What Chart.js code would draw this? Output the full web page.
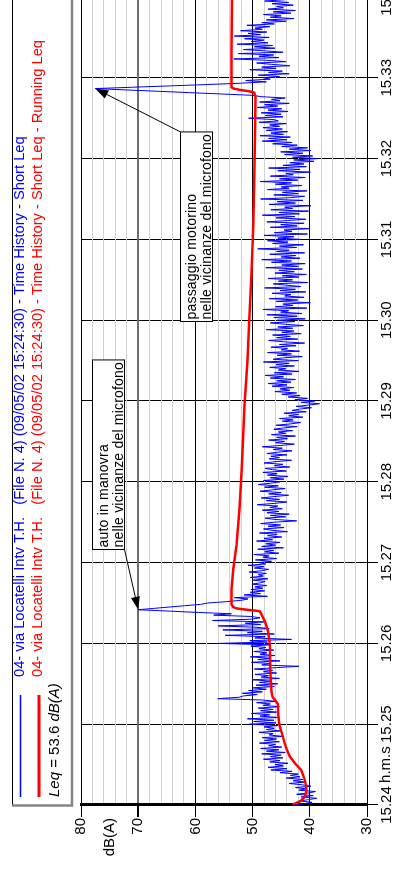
<!DOCTYPE html>
<html>
<head>
<meta charset="utf-8">
<title>04- via Locatelli - Time History</title>
<script src="https://cdn.jsdelivr.net/npm/chart.js@4.4.0/dist/chart.umd.min.js"></script>
<style>
  html, body { margin: 0; padding: 0; background: #fff; overflow: hidden; width: 394px; height: 869px; }
  /* the plot is laid out landscape and turned a quarter turn counter-clockwise */
  #turn { position: absolute; left: 0; top: 0; width: 872px; height: 394px;
          transform-origin: 0 0; transform: translate(0px, 869px) rotate(-90deg); }
  canvas { display: block; }
</style>
</head>
<body>
<div id="turn"><canvas id="chart" width="872" height="394"></canvas></div>
<script>
// time axis: one tick per minute, seconds from the start of the record
const timeTickLabels = ['15.24', '15.25', '15.26', '15.27', '15.28', '15.29', '15.30', '15.31', '15.32', '15.33', '15.34'];
const timeUnit = 'h.m.s';
const levelUnit = 'dB(A)';
const SAMPLE_STEP_S = 1;

// Short Leq, one value per second (dB(A))
const shortLeq = [
  43.2, 41.0, 39.6, 41.8, 40.2, 38.8, 41.5, 39.4, 42.3, 40.1, 39.0, 41.9, 40.6, 42.5, 39.8, 41.3, 43.6, 40.8, 42.9, 41.2,
  44.1, 41.7, 43.4, 42.0, 45.2, 43.1, 46.8, 44.0, 47.3, 44.6, 46.1, 43.8, 47.0, 45.2, 48.1, 44.7, 46.9, 45.0, 48.4, 44.3,
  47.6, 45.4, 48.6, 44.9, 47.2, 46.0, 48.8, 45.3, 47.9, 45.8, 48.3, 44.8, 47.1, 46.4, 48.9, 45.1, 47.6, 46.2, 48.0, 45.6,
  50.6, 45.9, 49.8, 46.3, 50.9, 45.5, 48.7, 47.0, 50.2, 45.8, 48.6, 46.4, 49.0, 45.3, 48.2, 46.9, 49.3, 45.7, 48.5, 56.1,
  52.4, 51.6, 49.2, 51.8, 48.3, 50.7, 47.6, 49.9, 46.2, 49.4, 45.6, 48.8, 46.9, 50.1, 45.3, 48.5, 47.2, 49.6, 45.8, 48.1,
  46.5, 49.7, 45.9, 41.9, 48.4, 46.8, 50.2, 45.2, 49.1, 47.0, 50.4, 46.1, 48.7, 47.5, 49.8, 46.3, 48.9, 47.7, 50.3, 47.1,
  56.0, 47.4, 50.5, 43.2, 49.6, 47.8, 54.8, 46.2, 50.9, 48.3, 55.2, 47.1, 49.4, 56.0, 48.6, 51.3, 47.9, 57.0, 50.2, 48.7,
  50.3, 56.8, 53.7, 59.5, 64.6, 70.0, 67.3, 64.6, 61.9, 59.1, 57.8, 54.6, 52.0, 50.8, 53.2, 47.4, 51.5, 48.6, 50.4, 47.9,
  50.3, 48.2, 49.6, 47.5, 50.1, 48.6, 47.8, 49.9, 47.3, 50.4, 48.1, 49.0, 47.6, 50.6, 48.4, 47.2, 49.7, 48.0, 50.8, 47.7,
  48.9, 46.7, 49.5, 45.8, 48.2, 47.1, 49.8, 45.4, 47.9, 46.3, 49.1, 44.6, 48.4, 46.0, 47.7, 45.2, 49.3, 46.5, 48.0, 44.9,
  47.4, 45.7, 48.8, 43.9, 46.6, 48.1, 44.5, 47.3, 45.1, 48.6, 46.2, 42.3, 45.9, 47.8, 44.2, 46.9, 43.6, 47.5, 45.4, 48.3,
  44.8, 47.0, 45.6, 49.2, 46.1, 44.0, 47.6, 45.3, 48.5, 46.4, 43.7, 47.2, 45.0, 48.7, 46.6, 44.3, 47.9, 45.5, 49.0, 46.8,
  45.2, 48.1, 44.5, 46.9, 43.8, 47.4, 45.7, 48.2, 44.1, 46.5, 47.8, 43.5, 46.2, 44.7, 48.0, 45.9, 43.2, 47.1, 45.3, 46.8,
  44.0, 47.5, 45.6, 43.1, 46.4, 44.8, 48.3, 45.1, 42.7, 46.0, 44.4, 47.2, 43.9, 45.8, 42.5, 46.7, 44.2, 45.5, 43.0, 46.3,
  44.6, 42.2, 45.9, 43.4, 41.6, 44.8, 42.9, 45.3, 41.2, 43.7, 42.0, 44.5, 40.6, 43.1, 41.8, 39.7, 42.4, 40.2, 38.3, 41.5,
  39.1, 42.6, 40.4, 43.8, 41.7, 44.9, 42.3, 46.1, 43.5, 45.2, 42.8, 46.6, 44.0, 47.3, 43.3, 45.8, 42.5, 46.9, 44.6, 47.8,
  43.1, 46.2, 41.9, 45.5, 44.2, 47.0, 42.7, 45.9, 43.6, 48.1, 42.0, 46.4, 44.8, 41.3, 45.7, 43.2, 47.4, 41.8, 45.0, 43.9,
  46.8, 42.4, 45.3, 40.9, 44.6, 47.2, 42.1, 45.8, 43.4, 46.5, 41.5, 44.9, 42.8, 47.6, 43.0, 45.6, 41.1, 44.3, 46.9, 42.6,
  45.7, 40.8, 46.3, 42.2, 47.5, 41.4, 45.1, 43.7, 48.2, 40.5, 46.0, 42.9, 44.7, 39.9, 45.9, 42.1, 47.1, 41.0, 44.4, 43.3,
  46.6, 40.7, 45.2, 42.5, 47.9, 41.6, 44.0, 46.4, 40.3, 45.5, 43.0, 47.3, 41.9, 44.8, 40.6, 46.1, 42.7, 45.4, 41.3, 47.7,
  42.0, 44.9, 40.8, 46.7, 43.2, 48.4, 41.7, 45.0, 42.4, 47.0, 40.9, 45.8, 43.6, 49.1, 42.3, 45.3, 41.1, 46.5, 43.8, 47.4,
  41.5, 45.6, 42.8, 48.0, 40.4, 46.2, 43.1, 44.5, 40.0, 46.9, 42.2, 45.1, 41.0, 47.5, 43.9, 40.7, 45.9, 42.6, 48.3, 41.8,
  45.4, 40.2, 46.8, 43.0, 44.4, 39.8, 47.1, 42.5, 45.7, 41.2, 48.6, 43.4, 40.9, 46.3, 42.0, 44.8, 40.5, 47.4, 43.6, 45.0,
  41.4, 46.0, 43.2, 48.7, 42.1, 45.3, 40.8, 46.9, 42.9, 44.2, 39.9, 45.6, 41.7, 47.2, 40.6, 44.7, 41.0, 43.5, 39.3, 42.8,
  38.6, 43.0, 39.5, 44.4, 41.2, 45.1, 39.8, 43.6, 40.4, 44.9, 42.2, 46.5, 43.1, 48.3, 44.0, 47.2, 43.4, 48.7, 44.6, 46.8,
  43.9, 47.6, 44.8, 48.2, 45.3, 47.0, 44.1, 48.9, 45.5, 46.3, 50.7, 44.7, 47.8, 45.0, 48.5, 43.8, 47.3, 44.9, 49.2, 45.6,
  47.9, 43.6, 48.8, 45.2, 46.7, 44.3, 48.5, 50.0, 55.5, 61.0, 66.5, 72.0, 77.5, 71.0, 64.5, 58.0, 52.0, 47.6, 51.2, 46.9,
  48.1, 45.3, 49.0, 43.6, 47.2, 44.8, 50.5, 45.9, 48.4, 43.5, 46.7, 49.3, 44.2, 47.5, 53.3, 45.4, 48.9, 46.3, 52.5, 44.7,
  47.8, 51.6, 46.1, 49.7, 46.5, 52.7, 47.3, 50.2, 48.0, 51.4, 47.1, 53.2, 48.6, 50.8, 47.5, 52.1, 48.3, 49.6, 47.0, 51.0,
  46.2, 48.4, 44.1, 47.6, 42.8, 46.9, 45.0, 48.1, 43.3, 46.4, 42.5, 47.3, 44.6, 45.8, 42.9, 46.6, 43.7, 47.9, 44.3, 45.5,
  46.0
];

// Running Leq (dB(A)) at the given seconds
const runningLeqSeconds = [
  0, 1, 3, 6, 10, 14, 20, 26, 31, 36,
  41, 46, 52, 59, 67, 75, 78, 80, 84, 100,
  120, 129, 136, 142, 144, 145, 146, 147, 149, 160,
  175, 193, 220, 250, 280, 297, 330, 360, 395, 430,
  465, 497, 526, 529, 530, 531, 532, 533, 560, 600
];
const runningLeq = [
  43.0, 42.6, 41.6, 40.9, 40.6, 40.6, 41.0, 41.5, 42.6, 43.5,
  44.0, 44.4, 44.8, 45.3, 45.5, 45.6, 46.1, 46.5, 46.7, 46.9,
  47.0, 47.3, 47.8, 48.5, 48.8, 51.0, 52.8, 53.4, 53.7, 53.7,
  53.4, 52.8, 52.3, 51.9, 51.6, 51.4, 50.9, 50.6, 50.2, 49.9,
  49.7, 49.6, 49.5, 49.7, 50.6, 52.2, 53.3, 53.7, 53.7, 53.6
];

const legendShort = '04- via Locatelli Intv T.H.   (File N. 4) (09/05/02 15:24:30) - Time History - Short Leq';
const legendRunning = '04- via Locatelli Intv T.H.   (File N. 4) (09/05/02 15:24:30) - Time History - Short Leq - Running Leq';
const totalLeq = 53.6;

// callouts: text lines, top-left corner of the box (s, dB), sample index of the pointed peak
const callouts = [
  { lines: ['auto in manovra', 'nelle vicinanze del microfono'], box: [189.5, 78.1], peak: 145, from: 'bottomLeft' },
  { lines: ['passaggio motorino', 'nelle vicinanze del microfono'], box: [358.7, 62.7], peak: 532, from: 'topRight' }
];

const FONT = '"Liberation Sans", Arial, Helvetica, sans-serif';
Chart.defaults.font.family = FONT;
Chart.defaults.color = '#000';

const shortPoints = shortLeq.map((v, i) => ({ x: i * SAMPLE_STEP_S, y: v }));
const runningPoints = runningLeq.map((v, i) => ({ x: runningLeqSeconds[i], y: v }));

const decorations = {
  id: 'decorations',
  afterDraw(chart) {
    const { ctx, scales: { x, y } } = chart;
    ctx.save();

    // legend frame
    const lx = 63, ly = 12, lb = 71, lr = chart.width + 5;
    ctx.fillStyle = '#fff';
    ctx.fillRect(lx, ly, lr - lx, lb - ly);
    ctx.strokeStyle = '#000';
    ctx.lineWidth = 1;
    ctx.beginPath(); ctx.moveTo(lx, ly + 0.5); ctx.lineTo(lr, ly + 0.5); ctx.stroke();
    ctx.strokeStyle = '#858585';
    ctx.lineWidth = 2.5;
    ctx.beginPath(); ctx.moveTo(lx + 0.5, ly); ctx.lineTo(lx + 0.5, lb + 1); ctx.lineTo(lr, lb + 1); ctx.stroke();

    // legend samples and entries
    ctx.lineWidth = 1.5; ctx.strokeStyle = '#0000ff';
    ctx.beginPath(); ctx.moveTo(72, 20.5); ctx.lineTo(174, 20.5); ctx.stroke();
    ctx.lineWidth = 3; ctx.strokeStyle = '#ff0000';
    ctx.beginPath(); ctx.moveTo(72, 39); ctx.lineTo(174, 39); ctx.stroke();

    ctx.textBaseline = 'middle';
    ctx.textAlign = 'left';
    ctx.font = '14.7px ' + FONT;
    ctx.fillStyle = '#0000ff';
    ctx.fillText(legendShort, 192, 19.5);
    ctx.fillStyle = '#ff0000';
    ctx.fillText(legendRunning, 192, 38);

    // total Leq
    let tx = 72;
    const parts = [['italic 15px ' + FONT, 'Leq'], ['15px ' + FONT, ' = ' + totalLeq.toFixed(1) + ' '], ['italic 15px ' + FONT, levelUnit]];
    ctx.fillStyle = '#000';
    for (const [f, s] of parts) { ctx.font = f; ctx.fillText(s, tx, 55); tx += ctx.measureText(s).width; }

    // axis units, each set in the gap after the first tick label
    ctx.font = '15px ' + FONT;
    ctx.textAlign = 'right';
    ctx.fillText(levelUnit, 51, (y.getPixelForValue(80) + y.getPixelForValue(70)) / 2);
    ctx.textAlign = 'center';
    ctx.textBaseline = 'top';
    ctx.fillText(timeUnit, (x.getPixelForValue(0) + x.getPixelForValue(60)) / 2, y.bottom + 11);

    // callouts
    ctx.textAlign = 'left';
    ctx.textBaseline = 'alphabetic';
    for (const c of callouts) {
      ctx.font = '14px ' + FONT;
      ctx.letterSpacing = '0.2px';
      const w = Math.max(...c.lines.map(s => ctx.measureText(s).width)) + 4;
      const h = 32;
      const bx = Math.round(x.getPixelForValue(c.box[0])) + 0.5;
      const by = Math.round(y.getPixelForValue(c.box[1])) + 0.5;
      ctx.fillStyle = '#fff';
      ctx.fillRect(bx, by, w, h);
      ctx.strokeStyle = '#000'; ctx.lineWidth = 1;
      ctx.strokeRect(bx, by, w, h);
      ctx.fillStyle = '#000';
      ctx.fillText(c.lines[0], bx + 2, by + 15);
      ctx.fillText(c.lines[1], bx + 2, by + 30);
      ctx.letterSpacing = '0px';

      const px = x.getPixelForValue(c.peak * SAMPLE_STEP_S);
      const py = y.getPixelForValue(shortLeq[c.peak]);
      const sx = c.from === 'bottomLeft' ? bx : bx + w;
      const sy = c.from === 'bottomLeft' ? by + h : by;
      const ang = Math.atan2(py - sy, px - sx);
      const headLen = 13, headW = 4.5;
      const baseX = px - headLen * Math.cos(ang), baseY = py - headLen * Math.sin(ang);
      ctx.beginPath(); ctx.moveTo(sx, sy); ctx.lineTo(baseX, baseY); ctx.stroke();
      ctx.beginPath();
      ctx.moveTo(px, py);
      ctx.lineTo(baseX + headW * Math.sin(ang), baseY - headW * Math.cos(ang));
      ctx.lineTo(baseX - headW * Math.sin(ang), baseY + headW * Math.cos(ang));
      ctx.closePath();
      ctx.fill();
    }
    ctx.restore();
  }
};

// keep the plot frame fixed: no extra room for overhanging end labels
function noEdgePadding(s) {
  s.paddingLeft = 0; s.paddingRight = 0; s.paddingTop = 0; s.paddingBottom = 0;
}

new Chart(document.getElementById('chart'), {
  type: 'line',
  data: {
    datasets: [
      { label: 'Running Leq', data: runningPoints, borderColor: '#ff0000', borderWidth: 2.5,
        pointRadius: 0, tension: 0, order: 0 },
      { label: 'Short Leq', data: shortPoints, borderColor: '#0000ff', borderWidth: 1,
        pointRadius: 0, tension: 0, order: 1 }
    ]
  },
  options: {
    responsive: false,
    animation: false,
    devicePixelRatio: 1,
    layout: { autoPadding: false, padding: { top: 81, left: 0, right: 0, bottom: 0 } },
    plugins: { legend: { display: false }, tooltip: { enabled: false } },
    scales: {
      x: {
        type: 'linear', min: 0, max: 600,
        afterFit: s => { s.height = 27; noEdgePadding(s); },
        ticks: {
          stepSize: 60, autoSkip: false, maxRotation: 0, minRotation: 0, padding: 0,
          font: { size: 15 }, color: '#000',
          callback: (v, i) => timeTickLabels[i]
        },
        grid: { color: '#000', lineWidth: 1, tickLength: 11, tickColor: '#000' },
        border: { color: '#000', width: 1 }
      },
      y: {
        min: 30, max: 80,
        afterFit: s => { s.width = 64; noEdgePadding(s); },
        ticks: {
          stepSize: 2, autoSkip: false, padding: 1,
          font: { size: 15 }, color: '#000',
          callback: v => (v % 10 === 0 ? String(v) : '')
        },
        grid: {
          color: c => {
            const v = c.tick ? c.tick.value : 0;
            if (v === 70) return '#6e6e6e';
            return v % 10 === 0 ? '#000' : '#d2d2d2';
          },
          lineWidth: c => (c.tick && c.tick.value === 70 ? 2 : 1),
          tickColor: c => (c.tick && c.tick.value % 10 === 0 ? '#000' : 'rgba(0,0,0,0)'),
          tickLength: 12
        },
        border: { color: '#000', width: 3 }
      }
    }
  },
  plugins: [decorations]
});
</script>
</body>
</html>
